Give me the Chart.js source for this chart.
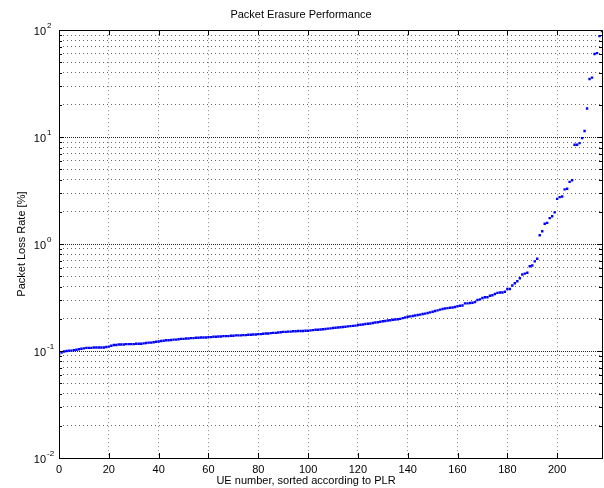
<!DOCTYPE html>
<html>
<head>
<meta charset="utf-8">
<script src="https://cdn.jsdelivr.net/npm/chart.js@4.4.1/dist/chart.umd.min.js"></script>
<style>
  html, body { margin: 0; padding: 0; background: #fff; }
  #wrap { width: 604px; height: 488px; }
</style>
</head>
<body>
<div id="wrap"><canvas id="myChart" width="604" height="488"></canvas></div>
<script>
// packet loss rate in %, one value per UE, sorted ascending
const plrPercent = [
  0.092, 0.097, 0.099, 0.100, 0.101, 0.101, 0.102, 0.103, 0.104, 0.105, 0.106,
  0.107, 0.107, 0.107, 0.108, 0.108, 0.108, 0.108, 0.108, 0.109, 0.110,
  0.112, 0.114, 0.114, 0.115, 0.115, 0.115, 0.116, 0.116, 0.116, 0.116,
  0.117, 0.117, 0.117, 0.118, 0.119, 0.120, 0.120, 0.121, 0.122, 0.123,
  0.124, 0.125, 0.126, 0.126, 0.127, 0.128, 0.128, 0.129, 0.130, 0.130,
  0.131, 0.131, 0.132, 0.132, 0.133, 0.133, 0.134, 0.134, 0.134, 0.135,
  0.135, 0.136, 0.136, 0.137, 0.137, 0.138, 0.138, 0.138, 0.139, 0.139,
  0.140, 0.140, 0.140, 0.141, 0.141, 0.142, 0.142, 0.143, 0.143, 0.144,
  0.144, 0.145, 0.146, 0.146, 0.147, 0.148, 0.148, 0.149, 0.150, 0.151,
  0.151, 0.152, 0.152, 0.153, 0.153, 0.154, 0.154, 0.154, 0.155, 0.155,
  0.156, 0.157, 0.158, 0.158, 0.159, 0.160, 0.161, 0.162, 0.163, 0.164,
  0.165, 0.166, 0.167, 0.168, 0.169, 0.170, 0.171, 0.172, 0.173, 0.175,
  0.176, 0.177, 0.179, 0.180, 0.181, 0.183, 0.185, 0.186, 0.188, 0.190,
  0.191, 0.193, 0.194, 0.196, 0.197, 0.198, 0.200, 0.203, 0.206, 0.209,
  0.211, 0.213, 0.215, 0.217, 0.219, 0.222, 0.224, 0.227, 0.230, 0.233,
  0.237, 0.240, 0.244, 0.247, 0.250, 0.252, 0.254, 0.255, 0.258, 0.262,
  0.265, 0.267, 0.279, 0.279, 0.281, 0.283, 0.287, 0.300, 0.304, 0.313,
  0.318, 0.318, 0.329, 0.332, 0.341, 0.350, 0.353, 0.353, 0.358, 0.380,
  0.38, 0.41, 0.43, 0.45, 0.48, 0.52, 0.53, 0.54, 0.62, 0.63,
  0.69, 0.73, 1.21, 1.32, 1.55, 1.58, 1.75, 1.82, 1.98, 2.65,
  2.75, 2.79, 3.25, 3.29, 3.82, 3.96, 8.5, 8.5, 8.8, 9.8,
  11.4, 18.5, 35, 36, 60, 61, 88, 98
];
const xTicks = [0, 20, 40, 60, 80, 100, 120, 140, 160, 180, 200];
const yDecades = [0.01, 0.1, 1, 10, 100];
const yExponents = ['-2', '-1', '0', '1', '2'];
const yMinorSteps = [1, 2, 3, 4, 5, 6, 7, 8, 9];

const FONT = "'Liberation Sans', Arial, Helvetica, sans-serif";

const isDecade = v => Math.abs(Math.log10(v) - Math.round(Math.log10(v))) < 1e-9;

// all log grid positions: 1..9 x each decade, plus the top decade
const yGrid = [];
yDecades.slice(0, -1).forEach(d => yMinorSteps.forEach(m => yGrid.push(+(d * m).toPrecision(3))));
yGrid.push(yDecades[yDecades.length - 1]);

const points = plrPercent.map((v, i) => ({ x: i, y: v }));

const decorations = {
  id: 'decorations',
  beforeDatasetsDraw(chart) {
    // decade grid lines are denser (major + minor grid overlap in the original)
    const { ctx, chartArea: a, scales: { y } } = chart;
    ctx.save();
    ctx.strokeStyle = '#222';
    ctx.lineWidth = 1;
    ctx.setLineDash([1, 3]);
    ctx.lineDashOffset = 2;
    ctx.beginPath();
    yDecades.forEach(v => {
      const py = Math.round(y.getPixelForValue(v)) + 0.5;
      ctx.moveTo(a.left, py); ctx.lineTo(a.right, py);
    });
    ctx.stroke();
    ctx.restore();
  },
  afterDraw(chart) {
    const { ctx, chartArea: a, scales: { x, y } } = chart;
    ctx.save();
    ctx.strokeStyle = '#000';
    ctx.lineWidth = 1;
    ctx.setLineDash([]);
    ctx.beginPath();
    xTicks.forEach(v => {
      const px = Math.round(x.getPixelForValue(v)) + 0.5;
      ctx.moveTo(px, a.bottom); ctx.lineTo(px, a.bottom - 5);
      ctx.moveTo(px, a.top); ctx.lineTo(px, a.top + 5);
    });
    yGrid.forEach(v => {
      const py = Math.round(y.getPixelForValue(v)) + 0.5;
      const len = isDecade(v) ? 5 : 3;
      ctx.moveTo(a.left, py); ctx.lineTo(a.left + len, py);
      ctx.moveTo(a.right, py); ctx.lineTo(a.right - len, py);
    });
    ctx.stroke();
    ctx.strokeRect(Math.round(a.left) + 0.5, Math.round(a.top) + 0.5,
      Math.round(a.right - a.left), Math.round(a.bottom - a.top));

    // y tick labels as 10^n
    ctx.fillStyle = '#000';
    ctx.textBaseline = 'middle';
    yDecades.forEach((v, i) => {
      const py = y.getPixelForValue(v);
      ctx.font = '11px ' + FONT;
      ctx.textAlign = 'right';
      ctx.fillText('10', 46, py + 2);
      ctx.font = '8px ' + FONT;
      ctx.textAlign = 'left';
      ctx.fillText(yExponents[i], 47, py - 4);
    });

    // x axis title
    ctx.font = '11px ' + FONT;
    ctx.textAlign = 'center';
    ctx.fillText('UE number, sorted according to PLR', 306, 481);
    ctx.restore();
  }
};

const grafico = document.getElementById('myChart');
const myChart = new Chart(grafico, {
  type: 'scatter',
  data: {
    datasets: [{
      label: 'PLR',
      data: points,
      showLine: false,
      pointStyle: 'rect',
      pointRadius: 1.7,
      pointHoverRadius: 1.7,
      pointBorderWidth: 0,
      backgroundColor: '#0000ff',
      borderColor: '#0000ff'
    }]
  },
  options: {
    responsive: false,
    animation: false,
    events: [],
    layout: { padding: { left: 0, right: 2, top: 0, bottom: 0 } },
    plugins: {
      legend: { display: false },
      tooltip: { enabled: false },
      title: {
        display: true,
        text: 'Packet Erasure Performance',
        color: '#000',
        font: { family: FONT, size: 11, weight: 'normal' },
        padding: { top: 8, bottom: 9 }
      }
    },
    scales: {
      x: {
        type: 'linear',
        min: 0,
        max: 218,
        afterFit: s => { s.height = 30; },
        afterBuildTicks: s => { s.ticks = xTicks.map(v => ({ value: v })); },
        ticks: {
          color: '#000',
          font: { family: FONT, size: 11 },
          padding: 5,
          maxRotation: 0,
          autoSkip: false,
          includeBounds: false
        },
        grid: {
          drawTicks: false,
          color: '#888',
          lineWidth: 1
        },
        border: { display: false, dash: [1, 3] }
      },
      y: {
        type: 'logarithmic',
        min: 0.01,
        max: 100,
        afterFit: s => { s.width = 59; },
        afterBuildTicks: s => { s.ticks = yGrid.map(v => ({ value: v, major: isDecade(v) })); },
        ticks: { display: false },
        title: {
          display: true,
          text: 'Packet Loss Rate [%]',
          color: '#000',
          font: { family: FONT, size: 11 },
          padding: { top: 15, bottom: 0 }
        },
        grid: {
          drawTicks: false,
          color: c => (c.tick && isDecade(c.tick.value)) ? '#222' : '#666',
          lineWidth: 1
        },
        border: { display: false, dash: [1, 3] }
      }
    }
  },
  plugins: [decorations]
});
</script>
</body>
</html>
